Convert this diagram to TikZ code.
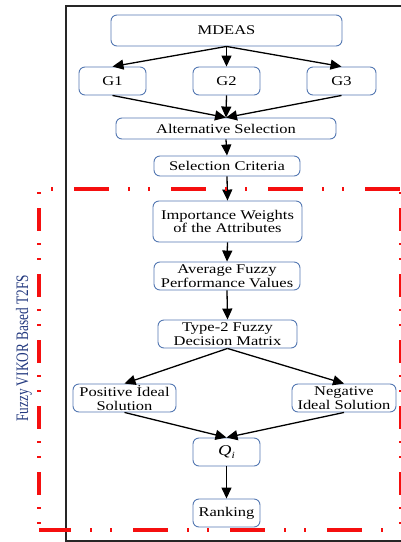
\documentclass[tikz,border=0pt]{standalone}
\usepackage{fontspec}
\setmainfont{Liberation Serif}[FakeStretch=1.24]
\newfontfamily\labelfont{Liberation Serif}[FakeStretch=0.76]
\usetikzlibrary{arrows.meta}
\definecolor{boxblue}{RGB}{84,120,178}
\definecolor{labelblue}{RGB}{36,58,128}
\definecolor{dashred}{RGB}{245,15,15}
\begin{document}
\begin{tikzpicture}[x=1pt,y=-1pt,
  box/.style={draw=boxblue,line width=0.9pt,rounded corners=6pt,align=center,inner sep=0pt,
    font=\fontsize{13.3}{13.6}\selectfont,text=black},
  arr/.style={-{Triangle[length=11pt,width=10pt]},line width=1.3pt},
  redh/.style={draw=dashred,line width=3.5pt,dash pattern=on 35pt off 19pt on 2pt off 18pt on 2pt off 21pt},
  redv/.style={draw=dashred,line width=4pt,dash pattern=on 23pt off 12pt on 2pt off 13pt on 2pt off 14pt}]
\useasboundingbox (0,0) rectangle (401,542);
\begin{scope}
\clip (0,0) rectangle (401,542);
\draw[line width=1.5pt,color=black!85] (66,6) rectangle (430,541);
% nodes
\node[box,minimum width=231pt,minimum height=31pt] (mdeas) at (226.5,30.5) {MDEAS};
\node[box,minimum width=67pt,minimum height=28pt] (g1) at (112.5,81) {G1};
\node[box,minimum width=67pt,minimum height=28pt] (g2) at (226.5,81) {G2};
\node[box,minimum width=69pt,minimum height=28pt] (g3) at (341.5,81) {G3};
\node[box,minimum width=220pt,minimum height=21pt] (alt) at (226,128.5) {Alternative Selection};
\node[box,minimum width=146pt,minimum height=20pt] (crit) at (227,166) {Selection Criteria};
\node[box,minimum width=149pt,minimum height=41pt] (imp) at (227.5,221.5) {Importance Weights\\of the Attributes};
\node[box,minimum width=146pt,minimum height=28pt] (avg) at (227,276) {Average Fuzzy\\Performance Values};
\node[box,minimum width=139pt,minimum height=28pt] (t2) at (227.5,334) {Type-2 Fuzzy\\Decision Matrix};
\node[box,minimum width=103pt,minimum height=28pt] (pos) at (124.5,398) {Positive İdeal\\Solution};
\node[box,minimum width=104pt,minimum height=28pt] (neg) at (344,398) {Negative\\Ideal Solution};
\node[box,minimum width=67pt,minimum height=28pt] (q) at (226.5,452) {{\fontsize{15}{15}\selectfont\itshape Q\raisebox{-0.35ex}{\fontsize{9.5}{9.5}\selectfont i}}};
\node[box,minimum width=67pt,minimum height=28pt] (rank) at (226.5,513) {Ranking};
% arrows
\draw[arr] (mdeas.south) -- (g1.north);
\draw[arr] (mdeas.south) -- (g2.north);
\draw[arr] (mdeas.south) -- (g3.north);
\draw[arr] (g1.south) -- (alt.north);
\draw[arr] (g2.south) -- (alt.north);
\draw[arr] (g3.south) -- (alt.north);
\draw[arr] (alt.south) -- (crit.north);
\draw[arr] (crit.south) -- (imp.north);
\draw[arr] (imp.south) -- (avg.north);
\draw[arr] (avg.south) -- (t2.north);
\draw[arr] (t2.south) -- (pos.north);
\draw[arr] (t2.south) -- (neg.north);
\draw[arr] (pos.south) -- (q.north);
\draw[arr] (neg.south) -- (q.north);
\draw[arr] (q.south) -- (rank.north);
% red dash-dot-dot frame
\coordinate (rtl) at (39,189);
\coordinate (rtr) at (401,189);
\coordinate (rbl) at (39,530);
\coordinate (rbr) at (401,530);
\draw[redh,dash phase=62pt] (rtl) -- (rtr);
\draw[redh,dash phase=3pt] (rbl) -- (rbr);
\draw[redv,dash phase=47pt] (rtl) -- (rbl);
\draw[redv,line width=3pt,dash phase=47pt] (400.5,189) -- (400.5,530);
% side label
\node[rotate=90,text=labelblue,inner sep=0pt,font=\labelfont\fontsize{17.5}{18}\selectfont] (lbl) at (24,348.5) {Fuzzy VIKOR Based T2FS};
\end{scope}
\end{tikzpicture}
\end{document}
